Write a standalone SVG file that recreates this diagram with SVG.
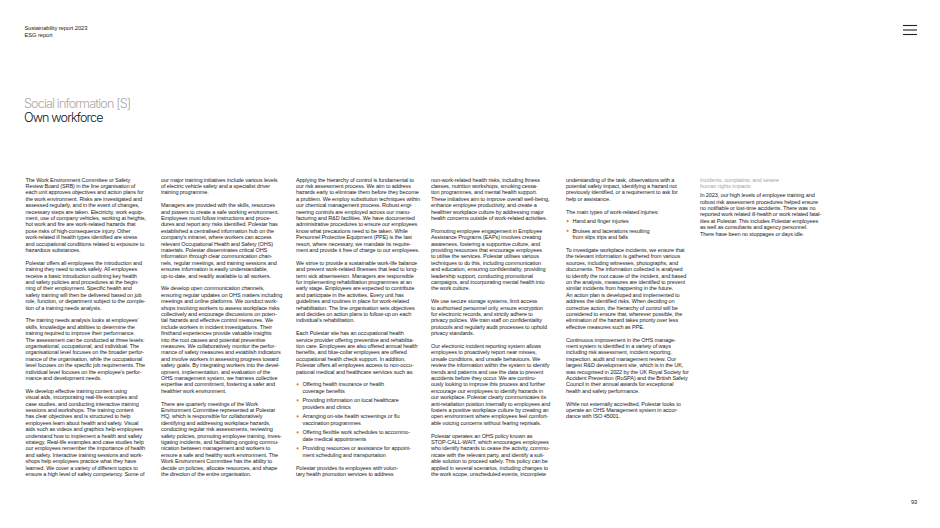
<svg xmlns="http://www.w3.org/2000/svg" width="940" height="528" viewBox="0 0 940 528">
<style>
text{font-family:"Liberation Sans",Arial,sans-serif}
.b{font-size:5.55px;letter-spacing:-0.1px;fill:#1c1c1c}
.h{font-size:5.8px;letter-spacing:-0.1px;fill:#1c1c1c}
.g{font-size:5.55px;letter-spacing:-0.1px;fill:#a3a3a3}
.t1,.t2{font-family:Inter,"Liberation Sans",Arial,sans-serif;font-weight:300;font-size:12.6px;letter-spacing:-0.85px}
.t1{fill:#a8a8a8}
.t2{fill:#111}
.dot{fill:#f07c1e}
</style>
<rect width="940" height="528" fill="#fff"/>
<g id="header">
<text class="h" x="24.5" y="30">Sustainability report 2023</text>
<text class="h" x="24.5" y="36.5">ESG report</text>
</g>
<g id="menu" stroke="#222" stroke-width="1.1">
<line x1="903" y1="25.5" x2="917" y2="25.5"/>
<line x1="903" y1="30" x2="917" y2="30"/>
<line x1="903" y1="34.5" x2="917" y2="34.5"/>
</g>
<g id="title">
<text class="t1" x="24" y="108">Social information [S]</text>
<text class="t2" x="24" y="122">Own workforce</text>
</g>
<g id="col1">
<text class="b" x="25.5" y="181.5">The Work Environment Committee or Safety<tspan x="25.5" dy="6.4">Review Board (SRB) in the line organisation of</tspan><tspan x="25.5" dy="6.4">each unit approves objectives and action plans for</tspan><tspan x="25.5" dy="6.4">the work environment. Risks are investigated and</tspan><tspan x="25.5" dy="6.4">assessed regularly, and in the event of changes,</tspan><tspan x="25.5" dy="6.4">necessary steps are taken. Electricity, work equip-</tspan><tspan x="25.5" dy="6.4">ment, use of company vehicles, working at heights,</tspan><tspan x="25.5" dy="6.4">hot work and fire are work-related hazards that</tspan><tspan x="25.5" dy="6.4">pose risks of high-consequence injury. Other</tspan><tspan x="25.5" dy="6.4">work-related ill health types identified are stress</tspan><tspan x="25.5" dy="6.4">and occupational conditions related to exposure to</tspan><tspan x="25.5" dy="6.4">hazardous substances.</tspan></text>
<text class="b" x="25.5" y="264.7">Polestar offers all employees the introduction and<tspan x="25.5" dy="6.4">training they need to work safely. All employees</tspan><tspan x="25.5" dy="6.4">receive a basic introduction outlining key health</tspan><tspan x="25.5" dy="6.4">and safety policies and procedures at the begin-</tspan><tspan x="25.5" dy="6.4">ning of their employment. Specific health and</tspan><tspan x="25.5" dy="6.4">safety training will then be delivered based on job</tspan><tspan x="25.5" dy="6.4">role, function, or department subject to the comple-</tspan><tspan x="25.5" dy="6.4">tion of a training needs analysis.</tspan></text>
<text class="b" x="25.5" y="322.3">The training needs analysis looks at employees’<tspan x="25.5" dy="6.4">skills, knowledge and abilities to determine the</tspan><tspan x="25.5" dy="6.4">training required to improve their performance.</tspan><tspan x="25.5" dy="6.4">The assessment can be conducted at three levels:</tspan><tspan x="25.5" dy="6.4">organisational, occupational, and individual. The</tspan><tspan x="25.5" dy="6.4">organisational level focuses on the broader perfor-</tspan><tspan x="25.5" dy="6.4">mance of the organisation, while the occupational</tspan><tspan x="25.5" dy="6.4">level focuses on the specific job requirements. The</tspan><tspan x="25.5" dy="6.4">individual level focuses on the employee’s perfor-</tspan><tspan x="25.5" dy="6.4">mance and development needs.</tspan></text>
<text class="b" x="25.5" y="392.7">We develop effective training content using<tspan x="25.5" dy="6.4">visual aids, incorporating real-life examples and</tspan><tspan x="25.5" dy="6.4">case studies, and conducting interactive training</tspan><tspan x="25.5" dy="6.4">sessions and workshops. The training content</tspan><tspan x="25.5" dy="6.4">has clear objectives and is structured to help</tspan><tspan x="25.5" dy="6.4">employees learn about health and safety. Visual</tspan><tspan x="25.5" dy="6.4">aids such as videos and graphics help employees</tspan><tspan x="25.5" dy="6.4">understand how to implement a health and safety</tspan><tspan x="25.5" dy="6.4">strategy. Real-life examples and case studies help</tspan><tspan x="25.5" dy="6.4">our employees remember the importance of health</tspan><tspan x="25.5" dy="6.4">and safety. Interactive training sessions and work-</tspan><tspan x="25.5" dy="6.4">shops help employees practice what they have</tspan><tspan x="25.5" dy="6.4">learned. We cover a variety of different topics to</tspan><tspan x="25.5" dy="6.4">ensure a high level of safety competency. Some of</tspan></text>
</g>
<g id="col2">
<text class="b" x="161" y="181.5">our major training initiatives include various levels<tspan x="161" dy="6.4">of electric vehicle safety and a specialist driver</tspan><tspan x="161" dy="6.4">training programme.</tspan></text>
<text class="b" x="161" y="207.1">Managers are provided with the skills, resources<tspan x="161" dy="6.4">and powers to create a safe working environment.</tspan><tspan x="161" dy="6.4">Employees must follow instructions and proce-</tspan><tspan x="161" dy="6.4">dures and report any risks identified. Polestar has</tspan><tspan x="161" dy="6.4">established a centralised information hub on the</tspan><tspan x="161" dy="6.4">company’s intranet, where workers can access</tspan><tspan x="161" dy="6.4">relevant Occupational Health and Safety (OHS)</tspan><tspan x="161" dy="6.4">materials. Polestar disseminates critical OHS</tspan><tspan x="161" dy="6.4">information through clear communication chan-</tspan><tspan x="161" dy="6.4">nels, regular meetings, and training sessions and</tspan><tspan x="161" dy="6.4">ensures information is easily understandable,</tspan><tspan x="161" dy="6.4">up-to-date, and readily available to all workers.</tspan></text>
<text class="b" x="161" y="290.3">We develop open communication channels,<tspan x="161" dy="6.4">ensuring regular updates on OHS matters including</tspan><tspan x="161" dy="6.4">meetings and online platforms. We conduct work-</tspan><tspan x="161" dy="6.4">shops involving workers to assess workplace risks</tspan><tspan x="161" dy="6.4">collectively and encourage discussions on poten-</tspan><tspan x="161" dy="6.4">tial hazards and effective control measures. We</tspan><tspan x="161" dy="6.4">include workers in incident investigations. Their</tspan><tspan x="161" dy="6.4">firsthand experiences provide valuable insights</tspan><tspan x="161" dy="6.4">into the root causes and potential preventive</tspan><tspan x="161" dy="6.4">measures. We collaboratively monitor the perfor-</tspan><tspan x="161" dy="6.4">mance of safety measures and establish indicators</tspan><tspan x="161" dy="6.4">and involve workers in assessing progress toward</tspan><tspan x="161" dy="6.4">safety goals. By integrating workers into the devel-</tspan><tspan x="161" dy="6.4">opment, implementation, and evaluation of the</tspan><tspan x="161" dy="6.4">OHS management system, we harness collective</tspan><tspan x="161" dy="6.4">expertise and commitment, fostering a safer and</tspan><tspan x="161" dy="6.4">healthier work environment.</tspan></text>
<text class="b" x="161" y="405.5">There are quarterly meetings of the Work<tspan x="161" dy="6.4">Environment Committee represented at Polestar</tspan><tspan x="161" dy="6.4">HQ, which is responsible for collaboratively</tspan><tspan x="161" dy="6.4">identifying and addressing workplace hazards,</tspan><tspan x="161" dy="6.4">conducting regular risk assessments, reviewing</tspan><tspan x="161" dy="6.4">safety policies, promoting employee training, inves-</tspan><tspan x="161" dy="6.4">tigating incidents, and facilitating ongoing commu-</tspan><tspan x="161" dy="6.4">nication between management and workers to</tspan><tspan x="161" dy="6.4">ensure a safe and healthy work environment. The</tspan><tspan x="161" dy="6.4">Work Environment Committee has the ability to</tspan><tspan x="161" dy="6.4">decide on policies, allocate resources, and shape</tspan><tspan x="161" dy="6.4">the direction of the entire organisation.</tspan></text>
</g>
<g id="col3">
<text class="b" x="296" y="181.5">Applying the hierarchy of control is fundamental to<tspan x="296" dy="6.4">our risk assessment process. We aim to address</tspan><tspan x="296" dy="6.4">hazards early to eliminate them before they become</tspan><tspan x="296" dy="6.4">a problem. We employ substitution techniques within</tspan><tspan x="296" dy="6.4">our chemical management process. Robust engi-</tspan><tspan x="296" dy="6.4">neering controls are employed across our manu-</tspan><tspan x="296" dy="6.4">facturing and R&amp;D facilities. We have documented</tspan><tspan x="296" dy="6.4">administrative procedures to ensure our employees</tspan><tspan x="296" dy="6.4">know what precautions need to be taken. While</tspan><tspan x="296" dy="6.4">Personnel Protective Equipment (PPE) is the last</tspan><tspan x="296" dy="6.4">resort, where necessary, we mandate its require-</tspan><tspan x="296" dy="6.4">ment and provide it free of charge to our employees.</tspan></text>
<text class="b" x="296" y="264.7">We strive to provide a sustainable work-life balance<tspan x="296" dy="6.4">and prevent work-related illnesses that lead to long-</tspan><tspan x="296" dy="6.4">term sick absenteeism. Managers are responsible</tspan><tspan x="296" dy="6.4">for implementing rehabilitation programmes at an</tspan><tspan x="296" dy="6.4">early stage. Employees are expected to contribute</tspan><tspan x="296" dy="6.4">and participate in the activities. Every unit has</tspan><tspan x="296" dy="6.4">guidelines and routines in place for work-related</tspan><tspan x="296" dy="6.4">rehabilitation. The line organisation sets objectives</tspan><tspan x="296" dy="6.4">and decides on action plans to follow-up on each</tspan><tspan x="296" dy="6.4">individual’s rehabilitation.</tspan></text>
<text class="b" x="296" y="335.1">Each Polestar site has an occupational health<tspan x="296" dy="6.4">service provider offering preventive and rehabilita-</tspan><tspan x="296" dy="6.4">tion care. Employees are also offered annual health</tspan><tspan x="296" dy="6.4">benefits, and blue-collar employees are offered</tspan><tspan x="296" dy="6.4">occupational health check support. In addition,</tspan><tspan x="296" dy="6.4">Polestar offers all employees access to non-occu-</tspan><tspan x="296" dy="6.4">pational medical and healthcare services such as:</tspan></text>
<circle class="dot" cx="297.6" cy="384.4" r="1.1"/>
<text class="b" x="302.5" y="386.3">Offering health insurance or health<tspan x="302.5" dy="6.4">coverage benefits</tspan></text>
<circle class="dot" cx="297.6" cy="400.4" r="1.1"/>
<text class="b" x="302.5" y="402.3">Providing information on local healthcare<tspan x="302.5" dy="6.4">providers and clinics</tspan></text>
<circle class="dot" cx="297.6" cy="416.4" r="1.1"/>
<text class="b" x="302.5" y="418.3">Arranging on-site health screenings or flu<tspan x="302.5" dy="6.4">vaccination programmes</tspan></text>
<circle class="dot" cx="297.6" cy="432.4" r="1.1"/>
<text class="b" x="302.5" y="434.3">Offering flexible work schedules to accommo-<tspan x="302.5" dy="6.4">date medical appointments</tspan></text>
<circle class="dot" cx="297.6" cy="448.4" r="1.1"/>
<text class="b" x="302.5" y="450.3">Providing resources or assistance for appoint-<tspan x="302.5" dy="6.4">ment scheduling and transportation</tspan></text>
<text class="b" x="296" y="469.5">Polestar provides its employees with volun-<tspan x="296" dy="6.4">tary health promotion services to address</tspan></text>
</g>
<g id="col4">
<text class="b" x="431" y="181.5">non-work-related health risks, including fitness<tspan x="431" dy="6.4">classes, nutrition workshops, smoking cessa-</tspan><tspan x="431" dy="6.4">tion programmes, and mental health support.</tspan><tspan x="431" dy="6.4">These initiatives aim to improve overall well-being,</tspan><tspan x="431" dy="6.4">enhance employee productivity, and create a</tspan><tspan x="431" dy="6.4">healthier workplace culture by addressing major</tspan><tspan x="431" dy="6.4">health concerns outside of work-related activities.</tspan></text>
<text class="b" x="431" y="232.7">Promoting employee engagement in Employee<tspan x="431" dy="6.4">Assistance Programs (EAPs) involves creating</tspan><tspan x="431" dy="6.4">awareness, fostering a supportive culture, and</tspan><tspan x="431" dy="6.4">providing resources that encourage employees</tspan><tspan x="431" dy="6.4">to utilise the services. Polestar utilises various</tspan><tspan x="431" dy="6.4">techniques to do this, including communication</tspan><tspan x="431" dy="6.4">and education, ensuring confidentiality, providing</tspan><tspan x="431" dy="6.4">leadership support, conducting promotional</tspan><tspan x="431" dy="6.4">campaigns, and incorporating mental health into</tspan><tspan x="431" dy="6.4">the work culture.</tspan></text>
<text class="b" x="431" y="303.1">We use secure storage systems, limit access<tspan x="431" dy="6.4">to authorised personnel only, ensure encryption</tspan><tspan x="431" dy="6.4">for electronic records, and strictly adhere to</tspan><tspan x="431" dy="6.4">privacy policies. We train staff on confidentiality</tspan><tspan x="431" dy="6.4">protocols and regularly audit processes to uphold</tspan><tspan x="431" dy="6.4">privacy standards.</tspan></text>
<text class="b" x="431" y="347.9">Our electronic incident reporting system allows<tspan x="431" dy="6.4">employees to proactively report near misses,</tspan><tspan x="431" dy="6.4">unsafe conditions, and unsafe behaviours. We</tspan><tspan x="431" dy="6.4">review the information within the system to identify</tspan><tspan x="431" dy="6.4">trends and patterns and use the data to prevent</tspan><tspan x="431" dy="6.4">accidents before they occur. We are continu-</tspan><tspan x="431" dy="6.4">ously looking to improve this process and further</tspan><tspan x="431" dy="6.4">encourage our employees to identify hazards in</tspan><tspan x="431" dy="6.4">our workplace. Polestar clearly communicates its</tspan><tspan x="431" dy="6.4">anti-retaliation position internally to employees and</tspan><tspan x="431" dy="6.4">fosters a positive workplace culture by creating an</tspan><tspan x="431" dy="6.4">open environment where employees feel comfort-</tspan><tspan x="431" dy="6.4">able voicing concerns without fearing reprisals.</tspan></text>
<text class="b" x="431" y="437.5">Polestar operates an OHS policy known as<tspan x="431" dy="6.4">STOP-CALL-WAIT, which encourages employees</tspan><tspan x="431" dy="6.4">who identify hazards to cease the activity, commu-</tspan><tspan x="431" dy="6.4">nicate with the relevant party, and identify a suit-</tspan><tspan x="431" dy="6.4">able solution to proceed safely. This policy can be</tspan><tspan x="431" dy="6.4">applied in several scenarios, including changes to</tspan><tspan x="431" dy="6.4">the work scope, unscheduled events, incomplete</tspan></text>
</g>
<g id="col5">
<text class="b" x="566" y="181.5">understanding of the task, observations with a<tspan x="566" dy="6.4">potential safety impact, identifying a hazard not</tspan><tspan x="566" dy="6.4">previously identified, or a requirement to ask for</tspan><tspan x="566" dy="6.4">help or assistance.</tspan></text>
<text class="b" x="566" y="213.5">The main types of work-related injuries:</text>
<circle class="dot" cx="567.6" cy="221.2" r="1.1"/>
<text class="b" x="572.5" y="223.1">Hand and finger injuries</text>
<circle class="dot" cx="567.6" cy="230.8" r="1.1"/>
<text class="b" x="572.5" y="232.7">Bruises and lacerations resulting<tspan x="572.5" dy="6.4">from slips trips and falls</tspan></text>
<text class="b" x="566" y="251.9">To investigate workplace incidents, we ensure that<tspan x="566" dy="6.4">the relevant information is gathered from various</tspan><tspan x="566" dy="6.4">sources, including witnesses, photographs, and</tspan><tspan x="566" dy="6.4">documents. The information collected is analysed</tspan><tspan x="566" dy="6.4">to identify the root cause of the incident, and based</tspan><tspan x="566" dy="6.4">on the analysis, measures are identified to prevent</tspan><tspan x="566" dy="6.4">similar incidents from happening in the future.</tspan><tspan x="566" dy="6.4">An action plan is developed and implemented to</tspan><tspan x="566" dy="6.4">address the identified risks. When deciding on</tspan><tspan x="566" dy="6.4">corrective action, the hierarchy of control will be</tspan><tspan x="566" dy="6.4">considered to ensure that, wherever possible, the</tspan><tspan x="566" dy="6.4">elimination of the hazard takes priority over less</tspan><tspan x="566" dy="6.4">effective measures such as PPE.</tspan></text>
<text class="b" x="566" y="341.5">Continuous improvement in the OHS manage-<tspan x="566" dy="6.4">ment system is identified in a variety of ways</tspan><tspan x="566" dy="6.4">including risk assessment, incident reporting,</tspan><tspan x="566" dy="6.4">inspection, audit and management review. Our</tspan><tspan x="566" dy="6.4">largest R&amp;D development site, which is in the UK,</tspan><tspan x="566" dy="6.4">was recognised in 2022 by the UK Royal Society for</tspan><tspan x="566" dy="6.4">Accident Prevention (RoSPA) and the British Safety</tspan><tspan x="566" dy="6.4">Council in their annual awards for exceptional</tspan><tspan x="566" dy="6.4">health and safety performance.</tspan></text>
<text class="b" x="566" y="405.5">While not externally accredited, Polestar looks to<tspan x="566" dy="6.4">operate an OHS Management system in accor-</tspan><tspan x="566" dy="6.4">dance with ISO 45001.</tspan></text>
</g>
<g id="col6">
<text class="g" x="700" y="181.5">Incidents, complaints, and severe<tspan x="700" dy="6.5">human rights impacts</tspan></text>
<text class="b" x="700" y="197.2">In 2023, our high levels of employee training and<tspan x="700" dy="6.4">robust risk assessment procedures helped ensure</tspan><tspan x="700" dy="6.4">no notifiable or lost-time accidents. There was no</tspan><tspan x="700" dy="6.4">reported work related ill-health or work related fatal-</tspan><tspan x="700" dy="6.4">ities at Polestar. This includes Polestar employees</tspan><tspan x="700" dy="6.4">as well as consultants and agency personnel.</tspan><tspan x="700" dy="6.4">There have been no stoppages or days idle.</tspan></text>
</g>
<g id="footer">
<text class="h" x="911" y="504">93</text>
</g>
</svg>
